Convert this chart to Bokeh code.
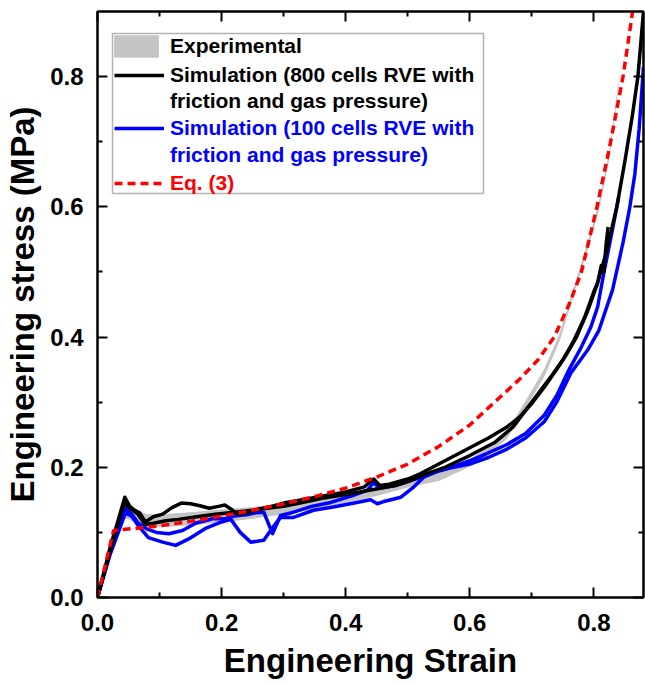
from bokeh.plotting import figure
from bokeh.models import (Legend, LegendItem, LinearAxis, BoxAnnotation, Range1d,
                          FixedTicker, ColumnDataSource)
from bokeh.embed import file_html
from bokeh.resources import INLINE

# ---------------- data ----------------
x_ticks = [0.0, 0.2, 0.4, 0.6, 0.8]
x_tick_labels = ["0.0", "0.2", "0.4", "0.6", "0.8"]
x_minor = [0.1, 0.3, 0.5, 0.7]
y_ticks = [0.0, 0.2, 0.4, 0.6, 0.8]
y_tick_labels = ["0.0", "0.2", "0.4", "0.6", "0.8"]
y_minor = [0.1, 0.3, 0.5, 0.7]

# Experimental (grey band)
exp_x = [0.0, 0.02, 0.04, 0.05, 0.06, 0.08, 0.10, 0.15, 0.20, 0.25, 0.30, 0.35, 0.40, 0.45,
         0.50, 0.55, 0.60, 0.63, 0.66, 0.69, 0.72, 0.745, 0.774, 0.79, 0.808, 0.825, 0.84]
exp_lo = [0.0, 0.07, 0.12, 0.12, 0.115, 0.108, 0.108, 0.111, 0.115, 0.121, 0.128, 0.136, 0.145,
          0.156, 0.169, 0.179, 0.201, 0.219, 0.244, 0.29, 0.339, 0.394, 0.484, 0.534, 0.594,
          0.674, 0.784]
exp_hi = [0.0, 0.09, 0.14, 0.14, 0.135, 0.128, 0.128, 0.131, 0.135, 0.139, 0.144, 0.15, 0.159,
          0.168, 0.181, 0.191, 0.213, 0.231, 0.256, 0.302, 0.351, 0.406, 0.496, 0.546, 0.606,
          0.686, 0.796]

# Simulation, 800 cells RVE (two runs)
blkA_x = [0.0, 0.02, 0.044, 0.052, 0.06, 0.068, 0.077, 0.09, 0.105, 0.12, 0.135, 0.15, 0.165,
          0.18, 0.195, 0.205, 0.215, 0.225, 0.24, 0.26, 0.28, 0.30, 0.33, 0.36, 0.40, 0.43,
          0.445, 0.455, 0.47, 0.50, 0.52, 0.55, 0.58, 0.60, 0.63, 0.66, 0.68, 0.70, 0.72, 0.74,
          0.755, 0.772, 0.79, 0.805, 0.82, 0.837, 0.85, 0.862, 0.871, 0.88]
blkA_y = [0.0, 0.075, 0.154, 0.14, 0.134, 0.13, 0.116, 0.124, 0.128, 0.138, 0.145, 0.144, 0.141,
          0.137, 0.14, 0.142, 0.136, 0.128, 0.13, 0.136, 0.14, 0.145, 0.15, 0.155, 0.162, 0.17,
          0.182, 0.172, 0.174, 0.182, 0.19, 0.205, 0.22, 0.23, 0.245, 0.262, 0.277, 0.298, 0.323,
          0.35, 0.372, 0.4, 0.44, 0.48, 0.53, 0.6, 0.67, 0.74, 0.8, 0.9]
blkB_x = [0.0, 0.02, 0.043, 0.055, 0.065, 0.077, 0.09, 0.11, 0.13, 0.16, 0.19, 0.22, 0.25, 0.28,
          0.30, 0.33, 0.36, 0.40, 0.44, 0.48, 0.50, 0.53, 0.56, 0.60, 0.64, 0.67, 0.70, 0.73,
          0.75, 0.768, 0.785, 0.80, 0.806, 0.812, 0.816, 0.82, 0.823]
blkB_y = [0.0, 0.07, 0.145, 0.135, 0.128, 0.112, 0.114, 0.118, 0.12, 0.124, 0.128, 0.131, 0.134,
          0.138, 0.14, 0.146, 0.152, 0.158, 0.165, 0.172, 0.178, 0.19, 0.2, 0.218, 0.238, 0.262,
          0.3, 0.338, 0.365, 0.395, 0.43, 0.47, 0.483, 0.51, 0.5, 0.545, 0.569]

# Simulation, 100 cells RVE (two runs)
b1_x = [0.0, 0.02, 0.045, 0.055, 0.066, 0.08, 0.095, 0.115, 0.137, 0.158, 0.185, 0.206, 0.22,
        0.24, 0.255, 0.268, 0.282, 0.295, 0.316, 0.345, 0.376, 0.41, 0.435, 0.445, 0.455, 0.48,
        0.516, 0.53, 0.57, 0.60, 0.63, 0.66, 0.69, 0.72, 0.74, 0.76, 0.78, 0.795, 0.806, 0.816,
        0.83, 0.84]
b1_y = [0.0, 0.07, 0.137, 0.128, 0.114, 0.105, 0.1, 0.098, 0.103, 0.114, 0.121, 0.121, 0.125,
        0.127, 0.13, 0.131, 0.098, 0.126, 0.131, 0.14, 0.146, 0.156, 0.165, 0.176, 0.168, 0.172,
        0.183, 0.188, 0.2, 0.21, 0.222, 0.235, 0.252, 0.28, 0.31, 0.35, 0.385, 0.415, 0.446,
        0.498, 0.565, 0.615]
b2_x = [0.0, 0.02, 0.045, 0.055, 0.066, 0.082, 0.105, 0.126, 0.147, 0.174, 0.2, 0.215, 0.23,
        0.247, 0.268, 0.279, 0.295, 0.316, 0.348, 0.38, 0.418, 0.44, 0.451, 0.46, 0.489, 0.51,
        0.526, 0.55, 0.574, 0.60, 0.63, 0.66, 0.69, 0.72, 0.74, 0.763, 0.79, 0.808, 0.83, 0.847,
        0.858, 0.866, 0.873, 0.88]
b2_y = [0.0, 0.065, 0.13, 0.125, 0.11, 0.092, 0.085, 0.08, 0.09, 0.106, 0.116, 0.12, 0.1, 0.085,
        0.088, 0.103, 0.123, 0.123, 0.134, 0.139, 0.146, 0.15, 0.144, 0.147, 0.154, 0.17, 0.185,
        0.195, 0.2, 0.205, 0.215, 0.228, 0.245, 0.27, 0.3, 0.345, 0.38, 0.41, 0.472, 0.545, 0.6,
        0.65, 0.72, 0.815]

# Eq. (3)
eq_x = [0.0, 0.026, 0.06, 0.1, 0.15, 0.2, 0.25, 0.3, 0.35, 0.4, 0.45, 0.5, 0.55, 0.6, 0.64, 0.68,
        0.71, 0.736, 0.76, 0.78, 0.805, 0.825, 0.847, 0.861, 0.866]
eq_y = [0.0, 0.103, 0.106, 0.11, 0.117, 0.125, 0.134, 0.144, 0.155, 0.168, 0.185, 0.205, 0.232,
        0.265, 0.3, 0.335, 0.365, 0.4, 0.45, 0.5, 0.6, 0.69, 0.8, 0.89, 0.93]

labels = ["Experimental",
          "Simulation (800 cells RVE with", "friction and gas pressure)",
          "Simulation (100 cells RVE with", "friction and gas pressure)",
          "Eq. (3)"]

# ---------------- style ----------------
FONT = "Liberation Sans"
GREY = "#c4c4c4"
BLUE = "#0000ff"
RED = "#ff0000"
LW = 3.5

p = figure(width=645, height=685, x_range=Range1d(0, 0.88), y_range=Range1d(0, 0.9),
           output_backend="svg", toolbar_location=None,
           min_border_left=97, min_border_right=2, min_border_top=11, min_border_bottom=88)
p.xgrid.visible = False
p.ygrid.visible = False
p.outline_line_color = "black"
p.outline_line_width = 2
p.background_fill_color = "white"

# data renderers
r_exp = p.varea(x=exp_x, y1=exp_lo, y2=exp_hi, fill_color=GREY)
r_b2 = p.line(b2_x, b2_y, line_color=BLUE, line_width=LW, line_join="round")
r_b1 = p.line(b1_x, b1_y, line_color=BLUE, line_width=LW, line_join="round")
r_kB = p.line(blkB_x, blkB_y, line_color="black", line_width=LW, line_join="round")
r_kA = p.line(blkA_x, blkA_y, line_color="black", line_width=LW, line_join="round")
r_eq = p.line(eq_x, eq_y, line_color=RED, line_width=LW, line_dash="8 5")

# legend-only renderers (no data)
empty = ColumnDataSource(data=dict(x=[], y=[]))
r_blank = p.line(x="x", y="y", source=empty, line_alpha=0)
r_outline = p.patch(x="x", y="y", source=empty, fill_alpha=0,
                    line_color="#404040", line_width=1.5)

# axes styling
def style_axis(ax, show_labels, ticks, tick_labels, minor):
    ax.ticker = FixedTicker(ticks=ticks, minor_ticks=minor)
    ax.axis_line_width = 2
    ax.axis_line_color = "black"
    ax.major_tick_in = 10
    ax.major_tick_out = 0
    ax.minor_tick_in = 5
    ax.minor_tick_out = 0
    ax.major_tick_line_width = 2
    ax.minor_tick_line_width = 2
    ax.major_tick_line_color = "black"
    ax.minor_tick_line_color = "black"
    if show_labels:
        ax.major_label_overrides = {t: s for t, s in zip(ticks, tick_labels)}
        ax.major_label_text_font = FONT
        ax.major_label_text_font_style = "bold"
        ax.major_label_text_font_size = "24px"
        ax.major_label_text_color = "black"
        ax.axis_label_text_font = FONT
        ax.axis_label_text_font_style = "bold"
        ax.axis_label_text_font_size = "33px"
        ax.axis_label_text_color = "black"
    else:
        ax.major_label_text_font_size = "1px"
        ax.major_label_text_color = None
        ax.major_label_text_alpha = 0
        ax.major_label_standoff = 0
        ax.axis_label = None

xa = p.xaxis[0]
ya = p.yaxis[0]
style_axis(xa, True, x_ticks, x_tick_labels, x_minor)
style_axis(ya, True, y_ticks, y_tick_labels, y_minor)
xa.axis_label = "Engineering Strain"
ya.axis_label = "Engineering stress (MPa)"
xa.major_label_standoff = 16
xa.axis_label_standoff = 8
ya.major_label_standoff = 14
ya.axis_label_standoff = 6

top_ax = LinearAxis()
right_ax = LinearAxis()
style_axis(top_ax, False, x_ticks, x_tick_labels, x_minor)
style_axis(right_ax, False, y_ticks, y_tick_labels, y_minor)
p.add_layout(top_ax, "above")
p.add_layout(right_ax, "right")

# legend frame
box = BoxAnnotation(left=15, right=386, top=564, bottom=404,
                    left_units="screen", right_units="screen",
                    top_units="screen", bottom_units="screen",
                    fill_color="white", fill_alpha=1.0,
                    line_color="black", line_width=1.5)
p.add_layout(box)

# (label, renderers, colour, row centre, x offset, glyph w, glyph h, standoff)
rows = [
    (labels[0], [r_exp, r_outline], "black", 46, 11, 56, 28, 6),
    (labels[1], [r_kA], "black", 75, 17, 50, 22, 6),
    (labels[2], [r_blank], "black", 101, 17, 50, 22, 6),
    (labels[3], [r_b1], BLUE, 128, 17, 50, 22, 6),
    (labels[4], [r_blank], BLUE, 155, 17, 50, 22, 6),
    (labels[5], [r_eq], RED, 183, 17, 50, 22, 6),
]
for text, rends, col, centre, xoff, gw, gh, stand in rows:
    h = max(gh, 24)
    lg = Legend(items=[LegendItem(label=text, renderers=rends)],
                location=(xoff, 597 - centre - h / 2), padding=0, margin=0,
                spacing=0, glyph_width=gw, glyph_height=gh, label_height=24,
                label_standoff=stand,
                label_text_font=FONT, label_text_font_style="bold",
                label_text_font_size="21px", label_text_color=col,
                border_line_alpha=0, background_fill_alpha=0)
    p.add_layout(lg)

open("out.html", "w").write(file_html(p, INLINE))
